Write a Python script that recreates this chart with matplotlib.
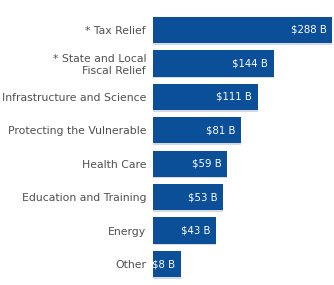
import matplotlib.pyplot as plt
import numpy as np
from matplotlib.ticker import FixedLocator

# data
categories = ["* Tax Relief", "* State and Local\nFiscal Relief", "Infrastructure and Science",
              "Protecting the Vulnerable", "Health Care", "Education and Training",
              "Energy", "Other"]
values = [288, 144, 111, 81, 59, 53, 43, 8]
value_labels = ["$288 B", "$144 B", "$111 B", "$81 B", "$59 B", "$53 B", "$43 B", "$8 B"]

bar_color = "#0a4f97"
shadow_color = "#d5d9e0"
text_color = "#505050"

# the original bars are not linear in the values; a power scale with a
# small negative base gets close to it
p = 0.6
def fwd(v):
    v = np.asarray(v, dtype=float)
    return np.sign(v) * np.abs(v) ** p
def inv(t):
    t = np.asarray(t, dtype=float)
    return np.sign(t) * np.abs(t) ** (1 / p)
base = -1.75

fig = plt.figure(figsize=(3.34, 2.85), dpi=100)
ax = fig.add_axes([153 / 334, 0, 179 / 334, 1])
ax.set_xscale("function", functions=(fwd, inv))

y = np.arange(len(values))
widths = np.array(values) - base
ax.barh(y + 0.045, widths, left=base, height=0.79, color=shadow_color, zorder=1)
ax.barh(y, widths, left=base, height=0.79, color=bar_color, zorder=2)

for yi, v, lab in zip(y, values, value_labels):
    ax.annotate(lab, (v, yi), xytext=(-4, 0), textcoords="offset points",
                ha="right", va="center", color="white", fontsize=7.3, zorder=3)

ax.set_xlim(base, max(values))
ax.set_ylim(len(values) - 1 + 21 / 33.43, -30 / 33.43)
ax.yaxis.set_major_locator(FixedLocator(y))
ax.set_yticklabels(categories, color=text_color, fontsize=7.8, ha="right",
                   multialignment="right", linespacing=1.2)
ax.tick_params(axis="y", length=0, pad=5)
ax.set_xticks([])
for s in ax.spines.values():
    s.set_visible(False)
ax.patch.set_alpha(0)

fig.savefig("out.png", dpi=100)
